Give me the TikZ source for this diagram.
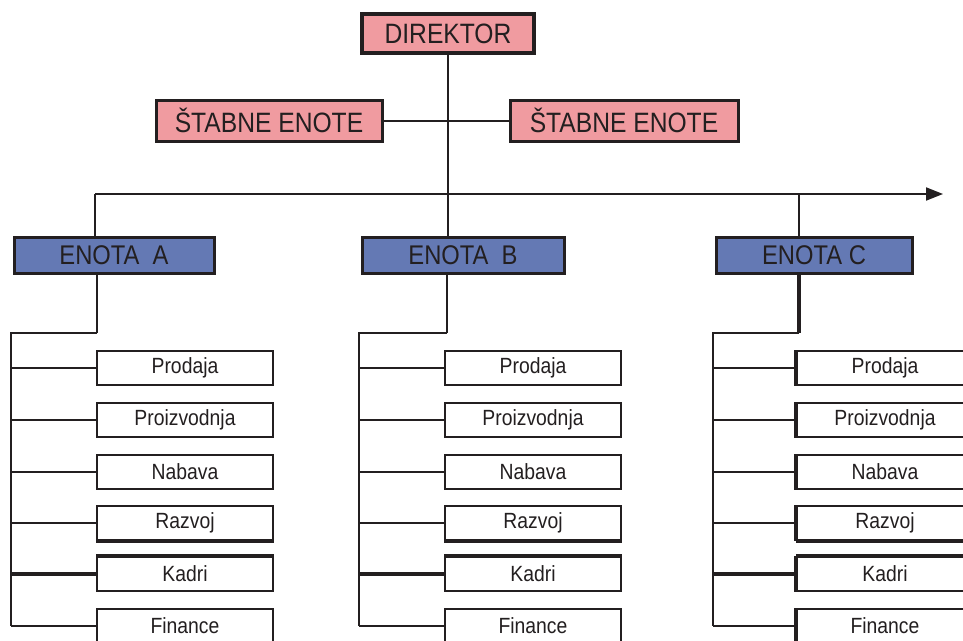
\documentclass[tikz,border=0pt]{standalone}
\usepackage{fontspec}
\setmainfont[FakeStretch=0.88]{Liberation Sans}
\usetikzlibrary{arrows.meta}
\definecolor{pinkfill}{HTML}{F09BA0}
\definecolor{bluefill}{HTML}{6479B4}
\definecolor{ink}{HTML}{231F20}
\tikzset{
  conn/.style={draw=ink,line width=2pt},
  thickconn/.style={draw=ink,line width=4pt},
  topbox/.style={draw=ink,fill=pinkfill,line width=3.5pt,inner sep=0pt,text=ink,
    font=\fontsize{28}{30}\selectfont,minimum height=39pt},
  staffbox/.style={draw=ink,fill=pinkfill,line width=3pt,inner sep=0pt,text=ink,
    font=\fontsize{28}{30}\selectfont,minimum height=41pt},
  unitbox/.style={draw=ink,fill=bluefill,line width=3pt,inner sep=0pt,text=ink,
    font=\fontsize{27}{29}\selectfont,minimum height=36pt},
  subbox/.style={draw=ink,fill=white,line width=2pt,inner sep=0pt,text=ink,
    font=\fontsize{22}{24}\selectfont,minimum width=176pt,minimum height=34pt},
}
\begin{document}
\begin{tikzpicture}[x=1pt,y=-1pt]
\useasboundingbox (0,0) rectangle (963,640);
% top
\node[topbox,minimum width=172pt] (dir) at (448,33.5) {DIREKTOR};
\node[staffbox,minimum width=226pt] (stL) at (269,120.5) {ŠTABNE ENOTE};
\node[staffbox,minimum width=228pt] (stR) at (624,120.5) {ŠTABNE ENOTE};
% units
\node[unitbox,minimum width=200pt] (ua) at (114,255) {ENOTA~~A};
\node[unitbox,minimum width=202pt] (ub) at (463,255) {ENOTA~~B};
\node[unitbox,minimum width=196pt] (uc) at (814,255) {ENOTA C};
% bus
\coordinate (busL) at (95,194);
\coordinate (busR) at (943,194);
\coordinate (busB) at (447,194);
\coordinate (busC) at (799,194);
\draw[conn] (dir.south) -- (dir.south |- ub.north);
\draw[conn] (stL.east) -- (stR.west);
\draw[conn,-{Triangle[length=17pt,width=13pt]}] (busL) -- (busR);
\draw[conn] (busL) -- (busL |- ua.north);
\draw[conn] (busC) -- (busC |- uc.north);
% sub units
\foreach \col/\cx/\lx/\dx/\dw in {a/185/11/97/2pt, b/533/359/447/2pt, c/885/713/799/4pt}{
  \foreach \i/\t/\y in {1/Prodaja/368, 2/Proizvodnja/420, 3/Nabava/472, 4/Razvoj/523, 5/Kadri/574, 6/Finance/626}{
    \node[subbox] (\col-\i) at (\cx,\y) {\t};
  }
  \coordinate (\col-top) at (\dx,333);
  \coordinate (\col-corner) at (\lx,333);
  \draw[draw=ink,line width=\dw] (u\col.south -| \col-top) -- (\col-top);
  \draw[conn] (\col-top) -- (\col-corner) -- (\col-corner |- \col-6.west);
  \foreach \i in {1,2,3,4,6}{
    \draw[conn] (\col-corner |- \col-\i.west) -- (\col-\i.west);
  }
  \draw[thickconn] (\col-corner |- \col-5.west) -- (\col-5.west);
  \draw[thickconn] (\col-4.south west) -- (\col-4.south east);
  \draw[thickconn] (\col-5.north west) -- (\col-5.north east);
}
\foreach \i in {1,...,6}{
  \draw[thickconn] (c-\i.north west) -- (c-\i.south west);
}
\end{tikzpicture}
\end{document}
